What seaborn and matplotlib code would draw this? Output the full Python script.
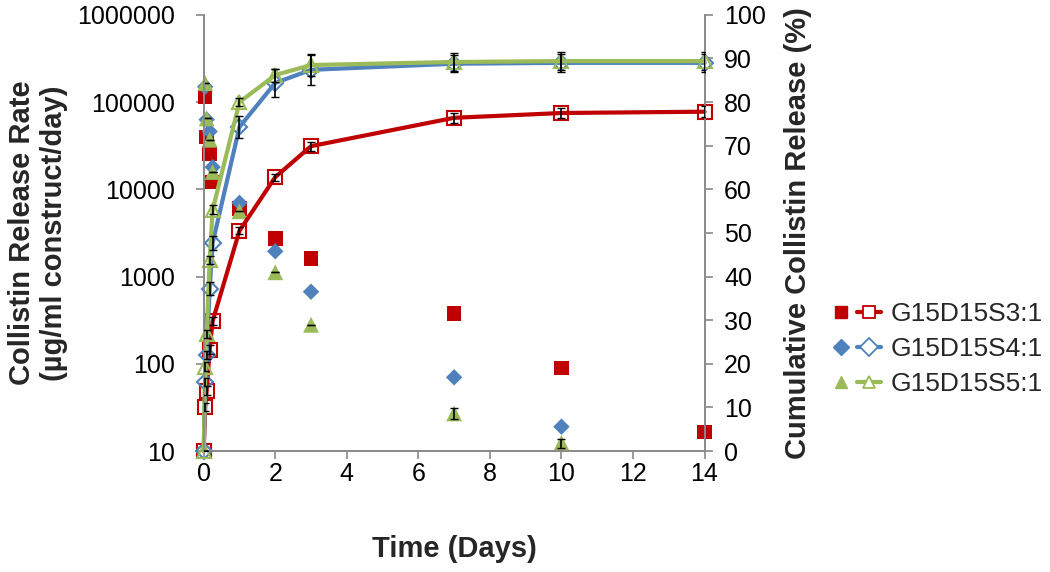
import numpy as np
import seaborn as sns
import matplotlib.pyplot as plt
from matplotlib.lines import Line2D
from matplotlib.legend_handler import HandlerTuple
from matplotlib.ticker import FixedLocator, FuncFormatter, NullLocator

# release rate (filled markers, left log axis)
time_rate = [0.042, 0.083, 0.167, 0.25, 1, 2, 3, 7, 10, 14]
rate_s3 = [115000, 40000, 25700, 12200, 6000, 2750, 1600, 375, 90, 16.5]
rate_s4 = [150000, 63000, 46000, 18000, 7000, 1950, 670, 70, 19, np.nan]
rate_s5 = [165000, 65000, 37000, 15800, 5600, 1120, 280, 27, 12.4, np.nan]
rate_err_s5 = [0, 0, 0, 0, 0, 0, 0, 4, 1.5, 0]

# cumulative release (lines with open markers, right axis)
time_cum = [0, 0.042, 0.083, 0.167, 0.25, 1, 2, 3, 7, 10, 14]
cum_s3 = [0, 10.1, 13.8, 23.2, 29.8, 50.5, 62.8, 69.9, 76.4, 77.5, 77.8]
cum_s4 = [0, 15.8, 22.0, 37.2, 47.7, 74.3, 84.4, 87.4, 88.8, 89.0, 89.0]
cum_s5 = [0, 19.3, 26.8, 43.8, 55.3, 80.0, 86.2, 88.5, 89.2, 89.4, 89.4]
err_s3 = [0, 1, 1, 1, 1, 0.8, 0.8, 1, 1.2, 1.2, 1.2]
err_s4 = [0, 1, 1, 1.5, 1.5, 2.6, 3.2, 3.5, 2.0, 2.0, 2.0]
err_s5 = [0, 1, 1, 1, 1, 1.0, 1.5, 2.5, 2.0, 2.0, 2.0]

labels = ["G15D15S3:1", "G15D15S4:1", "G15D15S5:1"]
colors = ["#C00000", "#4F81BD", "#9BBB59"]
markers = ["s", "D", "^"]

sns.set_style("ticks")
plt.rcParams["font.family"] = ["Liberation Sans", "DejaVu Sans"]

fig = plt.figure(figsize=(10.5, 5.72), dpi=100)
ax = fig.add_axes([0.194, 0.2115, 0.477, 0.7625])
ax2 = ax.twinx()

grey = "#898989"
sizes = [110, 70, 130]
for i, rate in enumerate([rate_s3, rate_s4, rate_s5]):
    sns.scatterplot(x=time_rate, y=rate, ax=ax, marker=markers[i], color=colors[i],
                    s=sizes[i], edgecolor="none", clip_on=False, legend=False)
ax.errorbar(time_rate, rate_s5, yerr=rate_err_s5, fmt="none", ecolor="black",
            elinewidth=1.2, capsize=3)

msizes = [10, 8, 10]
for i, (cum, err) in enumerate(zip([cum_s3, cum_s4, cum_s5], [err_s3, err_s4, err_s5])):
    ax2.errorbar(time_cum, cum, yerr=err, fmt="none", ecolor="black",
                 elinewidth=1.2, capsize=3, zorder=3)
    sns.lineplot(x=time_cum, y=cum, ax=ax2, color=colors[i], lw=3, marker=markers[i],
                 markersize=msizes[i], markerfacecolor="none", markeredgecolor=colors[i],
                 markeredgewidth=1.5, clip_on=False, zorder=2)

ax.set_yscale("log")
ax.set_ylim(10, 1000000)
ax.set_xlim(0, 14)
ax.set_xticks(range(0, 15, 2))
ax.yaxis.set_major_locator(FixedLocator([10, 100, 1000, 10000, 100000, 1000000]))
ax.yaxis.set_minor_locator(NullLocator())
ax.yaxis.set_major_formatter(FuncFormatter(lambda v, p: f"{int(round(v))}"))
ax2.set_ylim(0, 100)
ax2.set_yticks(range(0, 101, 10))

for a in (ax, ax2):
    for side in ["left", "right", "bottom"]:
        a.spines[side].set_visible(True)
        a.spines[side].set_color(grey)
        a.spines[side].set_linewidth(1.2)
    a.spines["top"].set_visible(False)
    a.tick_params(colors=grey, labelcolor="black", labelsize=18, length=6, width=1.2)
ax.tick_params(axis="y", pad=15)
ax2.tick_params(axis="y", pad=8)
ax.tick_params(axis="x", pad=2)

ax.set_xlabel("Time (Days)", fontsize=21, fontweight="bold", labelpad=35)
ax.set_ylabel("Collistin Release Rate\n(µg/ml construct/day)", fontsize=21,
              fontweight="bold", labelpad=6, linespacing=1.2)
ax2.set_ylabel("Cumulative Collistin Release (%)", fontsize=21, fontweight="bold", labelpad=13)

handles = []
for i in range(3):
    filled = Line2D([], [], ls="none", marker=markers[i], color=colors[i], markersize=8)
    line = Line2D([], [], color=colors[i], lw=3, marker=markers[i], markersize=9,
                  markerfacecolor="white", markeredgecolor=colors[i], markeredgewidth=1.3)
    handles.append((filled, line))
fig.legend(handles, labels, loc="upper left", bbox_to_anchor=(0.779, 0.49), frameon=False,
           fontsize=19, handlelength=2.0, handletextpad=0.35, labelspacing=0.42,
           borderaxespad=0, handler_map={tuple: HandlerTuple(ndivide=None, pad=0.15)})

fig.savefig("out.png", dpi=100)
